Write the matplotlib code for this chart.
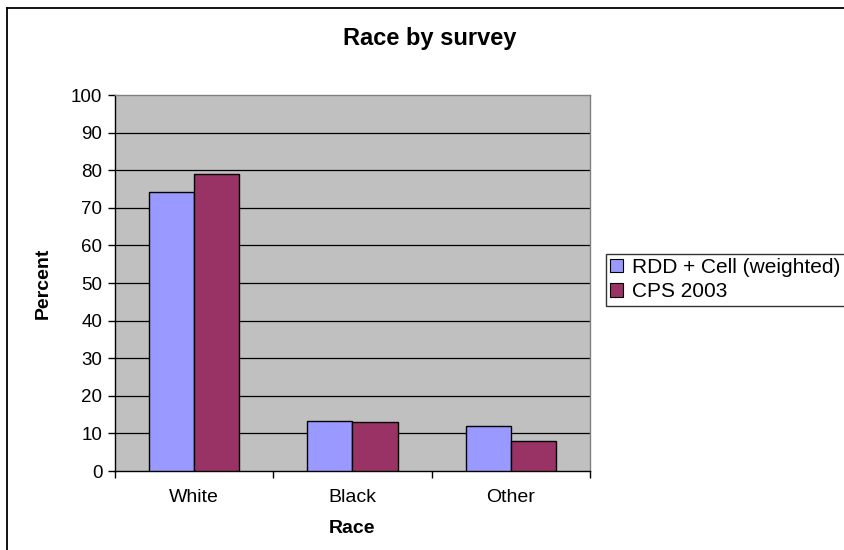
import matplotlib
matplotlib.use("Agg")
import matplotlib.pyplot as plt
from matplotlib.patches import Patch
from matplotlib.lines import Line2D
import numpy as np

plt.rcParams['font.family'] = ['Liberation Sans', 'DejaVu Sans']

categories = ["White", "Black", "Other"]
series_names = ["RDD + Cell (weighted)", "CPS 2003"]
rdd_cell = [74.3, 13.3, 11.9]
cps_2003 = [79.0, 13.0, 7.9]
y_ticks = [0, 10, 20, 30, 40, 50, 60, 70, 80, 90, 100]

colors = ["#9999FF", "#993366"]

W, H = 845, 550
fig = plt.figure(figsize=(W / 100, H / 100), dpi=100)
fig.patch.set_facecolor("white")

# outer chart border (top and left edges visible)
fig.add_artist(Line2D([7 / W, 1.0], [1 - 8 / H, 1 - 8 / H], color="black", lw=1.3,
                      transform=fig.transFigure))
fig.add_artist(Line2D([7 / W, 7 / W], [0.0, 1 - 8 / H], color="black", lw=1.3,
                      transform=fig.transFigure))

left, right, top, bottom = 115, 590, 95, 471
ax = fig.add_axes([left / W, 1 - bottom / H, (right - left) / W, (bottom - top) / H])
ax.set_facecolor("#C0C0C0")

x = np.arange(len(categories))
bw = 0.285
ax.bar(x - bw / 2, rdd_cell, bw, color=colors[0], edgecolor="black", linewidth=1.0, zorder=3)
ax.bar(x + bw / 2, cps_2003, bw, color=colors[1], edgecolor="black", linewidth=1.0, zorder=3)

ax.set_ylim(0, 100)
ax.set_xlim(-0.5, len(categories) - 0.5)
ax.set_yticks(y_ticks)
ax.set_yticklabels([str(v) for v in y_ticks], fontsize=13.5)
for v in y_ticks[1:-1]:
    ax.axhline(v, color="black", lw=0.9, zorder=1)

ax.set_xticks(x)
ax.set_xticklabels(categories, fontsize=14)
ax.tick_params(axis="x", which="major", length=0, pad=13)
ax.set_xticks(np.arange(-0.5, len(categories)), minor=True)
ax.tick_params(axis="x", which="minor", length=5, width=1, color="black", direction="out")
ax.tick_params(axis="y", length=5, width=1, color="black", direction="out", pad=4)

for side in ["top", "right"]:
    ax.spines[side].set_color("#808080")
    ax.spines[side].set_linewidth(1.0)
for side in ["left", "bottom"]:
    ax.spines[side].set_color("black")
    ax.spines[side].set_linewidth(1.0)

ax.set_xlabel("Race", fontsize=14, fontweight="bold", labelpad=10)
ax.set_ylabel("Percent", fontsize=14, fontweight="bold", labelpad=14)
fig.text(430 / W, 1 - 39 / H, "Race by survey", ha="center", va="center",
         fontsize=17, fontweight="bold")

handles = [Patch(facecolor=c, edgecolor="black", linewidth=0.8) for c in colors]
leg = fig.legend(handles, series_names, loc="upper left",
                 bbox_to_anchor=(606 / W, 1 - 254 / H), fontsize=15,
                 frameon=True, fancybox=False, edgecolor="black",
                 handlelength=0.6, handleheight=0.6, handletextpad=0.45,
                 borderpad=0.2, labelspacing=0.25, borderaxespad=0)
leg.get_frame().set_linewidth(1.0)

fig.savefig("out.png", dpi=100, facecolor="white")
